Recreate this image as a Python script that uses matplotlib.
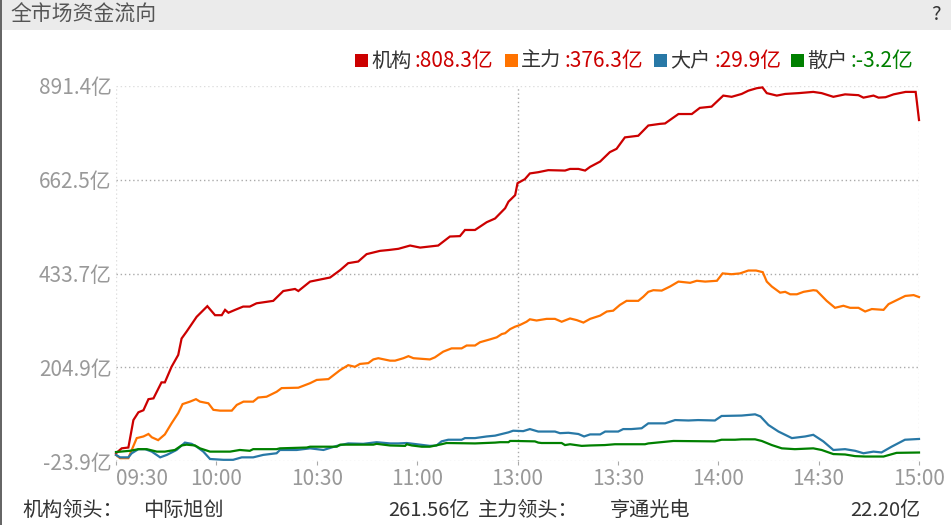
import matplotlib.pyplot as plt
from matplotlib.patches import Rectangle

plt.rcParams['font.family'] = ['Noto Sans CJK SC', 'DejaVu Sans']

# minutes since 09:30 (trading time, lunch break removed)
t_inst = [0, 1.7, 3.7, 5.2, 6.7, 8.2, 9.7, 11.2, 13.6, 14.6, 16.6, 18.6, 19.6, 21.1, 24.1, 27.3,
          29.6, 31.6, 32.6, 33.6, 35.6, 38, 40, 42, 47, 50, 53.5, 54.5, 58, 64, 67, 69.4, 72.4,
          74.9, 78.9, 81.4, 84.4, 87.9, 90.9, 96.3, 99.8, 102.8, 104.3, 107.3, 110.8, 113.3,
          116.3, 117.3, 119.3, 120, 122.2, 123.7, 126.2, 129.2, 134.2, 135.7, 138.2, 140.2,
          141.7, 144.7, 147.6, 149.6, 152.1, 156.1, 159.1, 162.6, 164.1, 168.1, 172.1, 174.5,
          178, 181.5, 184, 187, 189, 191.5, 193.2, 194.5, 197.5, 200, 204, 208.4, 210.9, 214.4,
          217.9, 221.9, 223.4, 226.4, 227.9, 230, 232.4, 236, 239, 239.3, 240]
v_inst = [-5, 7, 9, 76, 95, 100, 127, 129, 168, 168, 206, 235, 275, 292, 328, 354,
          332, 332, 345, 338, 345, 353, 353, 361, 367, 391, 396, 391, 414, 424, 442, 459, 463,
          481, 489, 491, 494, 502, 497, 502, 524, 525, 540, 540, 559, 568,
          593, 609, 625, 654, 664, 678, 681, 686, 685, 689, 689, 685,
          694, 707, 730, 738, 766, 770, 795, 799, 800, 823, 823, 838,
          841, 868, 865, 872, 880, 886, 888, 874, 868, 872, 874, 877, 874, 865,
          871, 869, 863, 868, 863, 864, 871, 877, 877, 857, 808.3]

t_main = [0, 1.2, 3.7, 4.7, 6.2, 8.2, 9.7, 10.7, 12.6, 14.6, 16.6, 18.6, 19.9, 22.1, 23.9, 25.1,
          27.6, 29.1, 31.1, 34.6, 36.1, 38.1, 41, 42.5, 45, 48, 49.5, 54.5, 58, 60, 63.5, 67,
          69.4, 71.4, 72.9, 75.4, 76.9, 78.4, 81.9, 83.4, 85.9, 87.4, 88.9, 93.8, 95.3, 97.8,
          100.3, 103.3, 104.8, 107.3, 108.8, 111.8, 113.8, 115.3, 116.3, 117.8, 119.3, 120.7,
          122.7, 123.7, 125.7, 128.7, 131.2, 133.2, 135.7, 137.7, 139.7, 141.7, 144.7, 146.7,
          148.6, 150.6, 152.6, 156.1, 157.6, 159.1, 160.6, 163.1, 165.6, 168.1, 171.6, 173.6,
          176.1, 179.6, 181.3, 184, 186.5, 189, 191.3, 193.3, 194.5, 196, 198.5, 200, 201.5,
          203.5, 205.5, 208.4, 209.4, 212.4, 214.9, 217.4, 219.4, 221.9, 223.9, 225.9, 229.4,
          230.9, 233.4, 235.9, 238.4, 240]
v_main = [-9, -17, -17, 3, 32, 36, 42, 34, 27, 41, 68, 93, 115, 121, 127, 121,
          117, 101, 99, 99, 113, 121, 121, 131, 133, 145, 154, 155, 166, 174, 176, 198,
          210, 206, 213, 215, 224, 227, 221, 221, 227, 232, 227, 224, 229, 243,
          251, 251, 258, 258, 266, 273, 278, 286, 288, 298, 304, 308,
          316, 322, 319, 323, 323, 316, 324, 320, 314, 323, 331, 341,
          343, 357, 367, 367, 377, 389, 393, 392, 402, 414, 411, 416,
          414, 416, 434, 432, 434, 441, 441, 437, 414, 402, 387, 389, 383,
          383, 389, 393, 392, 367, 350, 355, 350, 350, 341, 347, 345,
          359, 369, 379, 381, 376.3]

t_big = [0, 1.2, 3.7, 4.7, 6.7, 8.7, 10.7, 13.2, 15.2, 18.1, 20.6, 22.6, 24.1, 26.1, 28.1,
         32.1, 35, 37.6, 41, 44, 48, 49, 54, 58, 62, 66, 69.4, 73.9, 77.9, 81.9, 84.4, 86.9,
         89.9, 93.8, 95.8, 97.3, 99.3, 103.3, 104.3, 107.3, 110.8, 113.3, 114.8, 117.3, 118.7,
         121.7, 123.7, 126.2, 131.2, 132.7, 135.2, 138.2, 139.9, 141.7, 144.7, 146.2, 150.1,
         151.6, 154, 157.1, 159.1, 164.1, 167.1, 171.1, 174, 179, 181, 187, 191, 192.6, 195,
         198, 202, 206, 208.4, 211.4, 214.4, 217.9, 220.9, 223.4, 226.4, 228.8, 231.8, 235.8, 240]
v_big = [-9, -15, -15, -5, 5, 5, -1, -15, -9, 3, 21, 18, 11, -1, -19,
         -21, -21, -15, -15, -9, -5, 3, 3, 7, 3, 13, 19, 18, 22, 19, 19, 20,
         17, 13, 14, 24, 28, 28, 32, 32, 36, 38, 41, 46, 50,
         49, 54, 48, 48, 44, 45, 42, 36, 41, 41, 48, 48,
         54, 54, 56, 68, 68, 76, 75, 76, 75, 86, 87, 90, 85, 64,
         48, 32, 36, 40, 24, 3, 5, 1, -5, -1, -3, 11, 28, 29.9]

t_retail = [0, 4.2, 6.7, 9.2, 12.2, 14.6, 17.6, 19.6, 21.1, 23.6, 25.1, 28.1, 34.1, 37, 40, 41,
            48, 49, 57, 58, 66, 67, 76.9, 77.9, 81.9, 86.4, 86.9, 88.4, 91.4, 93.8, 97.3, 98.8,
            107.3, 113.3, 114.8, 117.3, 117.8, 119.3, 125.2, 126.2, 127.2, 133.2, 134.2, 135.7,
            139.2, 141.7, 146.1, 149.1, 150.1, 158.1, 159.1, 166.6, 179, 181, 185, 187, 191,
            193, 196, 199, 202.9, 208.4, 210.9, 214.4, 217.9, 220.9, 223.9, 229.4, 233.3, 240]
v_retail = [-2, 1, 5, 5, -1, -1, 3, 14, 16, 14, 7, -1, -1, 3, 1, 5,
            5, 7, 9, 11, 11, 16, 16, 18, 14, 13, 17, 14, 11, 11, 17, 20,
            19, 21, 22, 22, 25, 25, 24, 21, 20, 20, 15, 17,
            13, 14, 15, 17, 17, 17, 19, 25, 24, 28, 28, 29, 29,
            25, 15, 7, 5, 7, 3, -7, -8, -12, -13, -13, -4, -3.2]

names = ['机构', '主力', '大户', '散户']
finals = [808.3, 376.3, 29.9, -3.2]
colors = ['#cc0000', '#ff7300', '#2878a6', '#008000']

y_ticks = [-23.9, 204.9, 433.7, 662.5, 891.4]
x_ticks = [0, 30, 60, 90, 120, 150, 180, 210, 240]
x_labels = ['09:30', '10:00', '10:30', '11:00', '13:00', '13:30', '14:00', '14:30', '15:00']

leaders = [('机构领头：', '中际旭创', '261.56亿'), ('主力领头：', '亨通光电', '22.20亿')]

W, H = 951, 525
fig = plt.figure(figsize=(W / 100, H / 100), dpi=100)


def fx(x):
    return x / W


def fy(y):
    return 1 - y / H


# header band and left border
fig.patches.append(Rectangle((0, fy(30)), 1, 30 / H, transform=fig.transFigure,
                             facecolor='#ebebeb', edgecolor='none', zorder=0))
fig.patches.append(Rectangle((0, 0), 2 / W, 1, transform=fig.transFigure,
                             facecolor='#666666', edgecolor='none', zorder=1))
fig.text(fx(10), fy(15), '全市场资金流向', fontsize=15, color='#555555', va='center', ha='left')
fig.text(fx(936), fy(14), '?', fontsize=14.5, color='#333333', va='center', ha='center')

ax = fig.add_axes([fx(116), fy(461), (919 - 116) / W, (461 - 86) / H])
ax.set_xlim(0, 240)
ax.set_ylim(y_ticks[0], y_ticks[-1])
for s in ax.spines.values():
    s.set_visible(False)

dot = (0, (1, 2))
for i, v in enumerate(y_ticks):
    c = '#dddddd' if i in (0, len(y_ticks) - 1) else '#aaaaaa'
    ax.axhline(v, color=c, lw=1, ls=dot, zorder=1)
ax.axvline(0, color='#dddddd', lw=1, ls=dot, zorder=1)
ax.axvline(240, color='#dddddd', lw=1, ls=dot, zorder=1)
ax.axvline(120, color='#aaaaaa', lw=1, ls=dot, zorder=1)

series = [(t_inst, v_inst), (t_main, v_main), (t_big, v_big), (t_retail, v_retail)]
for (t, v), c in zip(series, colors):
    ax.plot(t, v, color=c, lw=1.6, zorder=3, clip_on=False, solid_joinstyle='miter')

ax.set_yticks(y_ticks)
ax.set_yticklabels([f'{v}亿' for v in y_ticks])
ax.set_xticks(x_ticks)
ax.set_xticklabels(x_labels)
ax.tick_params(axis='y', length=0, pad=3, labelsize=15, labelcolor='#999999')
ax.tick_params(axis='x', length=3, color='#aaaaaa', pad=2, labelsize=15, labelcolor='#999999')
ax.get_xticklabels()[0].set_horizontalalignment('left')

# legend across the top
sq_x = [355, 505, 654, 791]
for x0, name, val, c in zip(sq_x, names, finals, colors):
    fig.patches.append(Rectangle((fx(x0), fy(67)), 13 / W, 13 / H, transform=fig.transFigure,
                                 facecolor=c, edgecolor='none'))
    fig.text(fx(x0 + 16), fy(61), name, fontsize=14.5, color='#333333', va='center', ha='left')
    vc = '#cc0000' if val >= 0 else '#008000'
    fig.text(fx(x0 + 60), fy(61), f':{val}亿', fontsize=15, color=vc, va='center', ha='left')

# leaders row at the bottom
row = [(22, 143, 470), (478, 610, 920)]
for (lx, nx, vx), (lab, stock, amt) in zip(row, leaders):
    fig.text(fx(lx), fy(510), lab, fontsize=14.5, color='#333333', va='center', ha='left')
    fig.text(fx(nx), fy(510), stock, fontsize=14.5, color='#333333', va='center', ha='left')
    fig.text(fx(vx), fy(510), amt, fontsize=14.5, color='#333333', va='center', ha='right')

fig.savefig('out.png', dpi=100)
